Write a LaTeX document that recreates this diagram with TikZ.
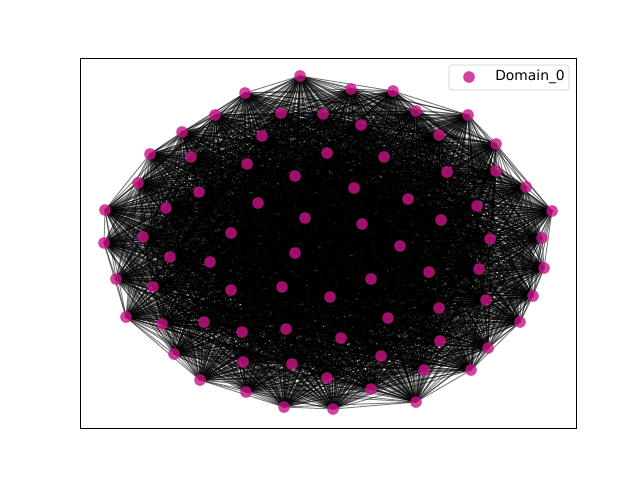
\documentclass[tikz,border=0pt]{standalone}
\usepackage{fontspec}
\setmainfont{DejaVu Sans}
\usepackage{xcolor}
\definecolor{domcolor}{HTML}{C71585}

\begin{document}
\begin{tikzpicture}[x=0.025cm, y=-0.025cm,
  domnode/.style={circle, fill=domcolor, fill opacity=0.8, inner sep=0pt, minimum size=0.29cm},
  edge/.style={black, line width=0.7pt, opacity=0.5}]
% Canvas
\useasboundingbox (0,0) rectangle (640,480);
\fill[white] (0,0) rectangle (640,480);

% Node positions
\foreach \x/\y [count=\i] in {300/76, 351/89, 393/91, 245/93, 416/111, 468/115, 215/115, 281/113,
  323/114, 361/125, 182/132, 262/136, 439/135, 496/144, 150/154, 191/157, 247/164, 327/153,
  384/157, 447/172, 496/171, 295/176, 138/183, 526/187, 354/188, 199/192, 258/203, 408/199,
  477/206, 105/210, 166/208, 552/211, 305/218, 362/224, 441/220, 143/237, 231/233, 104/243,
  542/238, 490/239, 400/246, 295/253, 170/257, 210/262, 429/272, 479/269, 544/268, 116/279,
  371/279, 153/287, 231/290, 282/287, 330/297, 533/296, 486/300, 439/308, 126/317, 162/324,
  204/322, 388/318, 520/322, 286/329, 242/332, 341/338, 440/341, 488/348, 174/354, 381/356,
  243/362, 292/364, 424/370, 471/370, 200/380, 327/378, 371/389, 246/392, 416/402, 284/407,
  333/409}
  \coordinate (n\i) at (\x,\y);

% Edges (every pair)
\foreach \i in {1,...,78} {
  \pgfmathtruncatemacro\k{\i+1}
  \foreach \j in {\k,...,79}
    \draw[edge] (n\i) -- (n\j);
}

% Nodes
\foreach \i in {1,...,79}
  \node[domnode] (d\i) at (n\i) {};

% Axes
\draw[line width=0.6pt] (80,58) rectangle (576,428);

% Legend
\draw[rounded corners=2pt, draw=black!20, fill=white, fill opacity=0.8] (449,65) rectangle (569,90);
\node[domnode] (legdot) at (469,77) {};
\node[right, inner sep=0pt, font=\fontsize{9.85}{12}\selectfont] (legtext) at (495,77) {Domain\_0};
\end{tikzpicture}
\end{document}
